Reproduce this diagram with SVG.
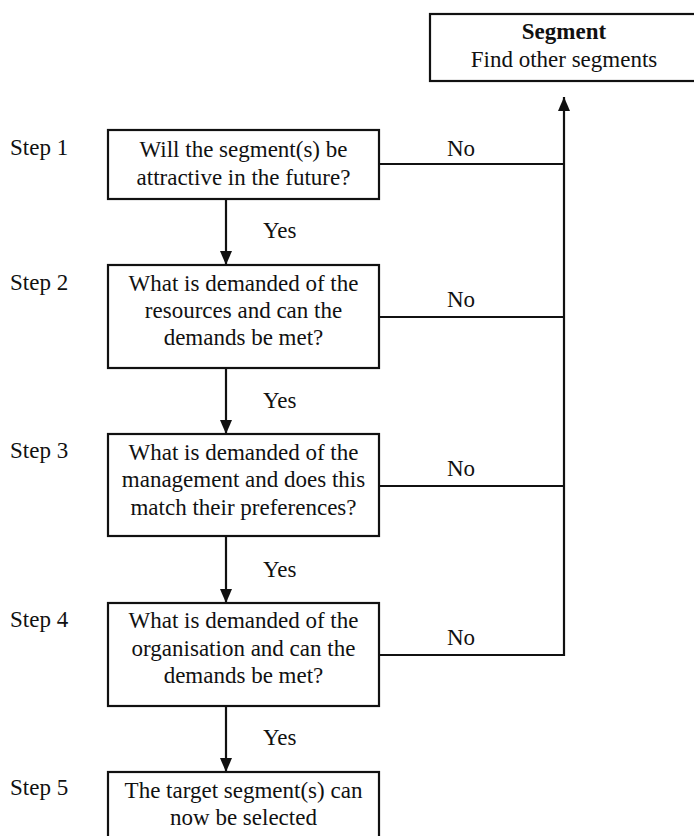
<svg xmlns="http://www.w3.org/2000/svg" width="694" height="836" viewBox="0 0 694 836">
<defs>
<style>
text{font-family:"Liberation Serif","Times New Roman",serif;font-size:23px;fill:#111}
.c{text-anchor:middle}
.b{font-weight:bold}
.box{fill:#fff;stroke:#111;stroke-width:2.2}
.ln{fill:none;stroke:#111;stroke-width:2.2}
</style>
<marker id="ah" markerUnits="userSpaceOnUse" markerWidth="14" markerHeight="12" viewBox="0 0 14 12" refX="14" refY="6" orient="auto">
<path d="M0,0 L14,6 L0,12 Z" fill="#111"/>
</marker>
</defs>
<rect width="694" height="836" fill="#fff"/>

<g id="segment">
<rect class="box" x="430" y="14" width="280" height="67"/>
<text class="c b" x="564" y="39">Segment</text>
<text class="c" x="564" y="67">Find other segments</text>
</g>

<g id="step1">
<text x="10" y="155">Step 1</text>
<rect class="box" x="108" y="130" width="271" height="69"/>
<text class="c" x="243.5" y="157">Will the segment(s) be</text>
<text class="c" x="243.5" y="185">attractive in the future?</text>
</g>

<g id="step2">
<text x="10" y="290">Step 2</text>
<rect class="box" x="108" y="265" width="271" height="103"/>
<text class="c" x="243.5" y="291">What is demanded of the</text>
<text class="c" x="243.5" y="318">resources and can the</text>
<text class="c" x="243.5" y="345">demands be met?</text>
</g>

<g id="step3">
<text x="10" y="458">Step 3</text>
<rect class="box" x="108" y="434" width="271" height="102"/>
<text class="c" x="243.5" y="460">What is demanded of the</text>
<text class="c" x="243.5" y="487">management and does this</text>
<text class="c" x="243.5" y="515">match their preferences?</text>
</g>

<g id="step4">
<text x="10" y="627">Step 4</text>
<rect class="box" x="108" y="603" width="271" height="103"/>
<text class="c" x="243.5" y="628">What is demanded of the</text>
<text class="c" x="243.5" y="656">organisation and can the</text>
<text class="c" x="243.5" y="683">demands be met?</text>
</g>

<g id="step5">
<text x="10" y="795">Step 5</text>
<rect class="box" x="108" y="772" width="271" height="80"/>
<text class="c" x="243.5" y="798">The target segment(s) can</text>
<text class="c" x="243.5" y="825">now be selected</text>
</g>

<g id="connectors">
<line class="ln" x1="226" y1="199" x2="226" y2="265" marker-end="url(#ah)"/>
<line class="ln" x1="226" y1="368" x2="226" y2="434" marker-end="url(#ah)"/>
<line class="ln" x1="226" y1="536" x2="226" y2="603" marker-end="url(#ah)"/>
<line class="ln" x1="226" y1="706" x2="226" y2="772" marker-end="url(#ah)"/>
<line class="ln" x1="379" y1="164" x2="564" y2="164"/>
<line class="ln" x1="379" y1="317" x2="564" y2="317"/>
<line class="ln" x1="379" y1="486" x2="564" y2="486"/>
<polyline class="ln" points="379,655 564,655 564,97" marker-end="url(#ah)"/>
<text x="263" y="238">Yes</text>
<text x="263" y="408">Yes</text>
<text x="263" y="577">Yes</text>
<text x="263" y="745">Yes</text>
<text x="447" y="156">No</text>
<text x="447" y="307">No</text>
<text x="447" y="476">No</text>
<text x="447" y="645">No</text>
</g>
</svg>
